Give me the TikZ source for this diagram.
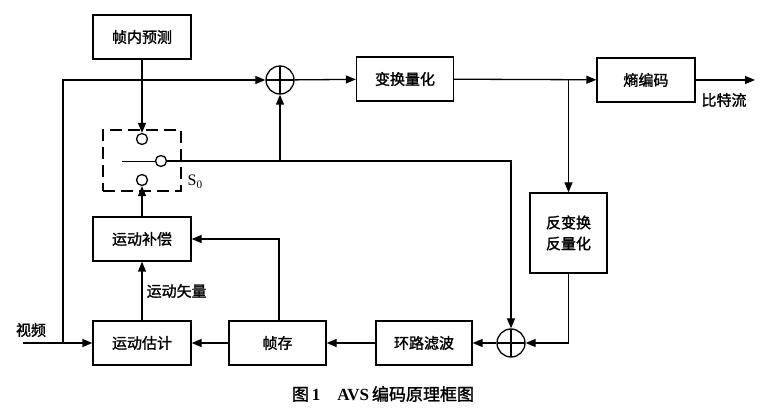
\documentclass[tikz,border=0pt]{standalone}
\usepackage{fontspec}
\setmainfont{Liberation Serif}
\newfontfamily\cjk[FakeBold=1.5]{Noto Sans CJK SC}
\usetikzlibrary{arrows.meta,positioning}

\begin{document}
\begin{tikzpicture}[x=1pt,y=-1pt,>={Triangle[length=10pt,width=8pt]},line width=1.3pt,
  block/.style={draw,minimum width=98pt,minimum height=44pt,inner sep=0pt,font=\cjk\fontsize{15}{21}\selectfont},
  sum/.style={draw,circle,minimum size=28pt,inner sep=0pt,
    path picture={\draw (path picture bounding box.north) -- (path picture bounding box.south)
                        (path picture bounding box.west) -- (path picture bounding box.east);}},
  pin/.style={draw,circle,minimum size=11pt,inner sep=0pt,fill=white},
  tag/.style={font=\cjk\fontsize{15}{18}\selectfont,inner sep=1pt}]
\useasboundingbox (0,0) rectangle (768,419);

% blocks
\node[block] (intra) at (142,37) {帧内预测};
\node[sum] (s1) at (280,80) {};
\node[block,minimum width=97pt] (tq) at (405,79) {变换量化};
\node[block] (ec) at (646,80) {熵编码};
\node[block,minimum width=77pt,minimum height=80pt,align=center] (iq) at (568.5,233) {反变换\\反量化};
\node[block] (mc) at (142,239) {运动补偿};
\node[block] (me) at (142,343) {运动估计};
\node[block,minimum width=97pt] (fs) at (277.5,343) {帧存};
\node[block,minimum width=96pt] (lf) at (424,343) {环路滤波};
\node[sum] (s2) at (511,343) {};

% switch S0
\node[draw,dash pattern=on 12pt off 6pt,minimum width=78pt,minimum height=61pt] (sw) at (142,160.5) {};
\node[pin] (pa) at (142,139) {};
\node[pin] (pb) at (161,161) {};
\node[pin] (pc) at (142,180) {};
\node[font=\fontsize{16}{18}\selectfont,right=2pt of sw.south east,yshift=10pt] (s0) {S\textsubscript{0}};
\coordinate (swin) at (122,161);

% free ends and joints
\coordinate (vin) at (23,343);
\coordinate (j3) at (63,343);
\coordinate (j4) at (63,80);
\coordinate (j1) at (s1 |- pb);
\coordinate (k1) at (s2 |- pb);
\coordinate (j2) at (iq |- tq);
\coordinate (out) at (755,80);

% connectors
\draw[->] (vin) -- (me);
\draw[->] (j3) -- (j4) -- (s1);
\draw[->] (s1) -- (tq);
\draw[->] (tq) -- (ec);
\draw[->] (ec) -- (out);
\draw[->] (j2) -- (iq);
\draw[->] (iq) |- (s2);
\draw[->] (s2) -- (lf);
\draw[->] (lf) -- (fs);
\draw[->] (fs) -- (me);
\draw[->] ([xshift=1.5pt]fs.north) |- (mc);
\draw[->] (me) -- node[tag,right=3pt] (mv) {运动矢量} (mc);
\draw[->] (mc) -- (pc);
\draw[->] (intra) -- (pa);
\draw[line width=0.9pt] (swin) -- (pb);
\draw[->] (pb) -- (k1) -- (s2);
\draw[->] (j1) -- (s1);

% labels
\node[tag] (vid) at (31,330) {视频};
\node[tag] (bits) at (724,100) {比特流};
\node[font=\fontsize{17}{20}\selectfont] (cap) at (383,394) {{\cjk 图}\,\textbf{1}\quad\textbf{AVS}\,{\cjk 编码原理框图}};
\end{tikzpicture}
\end{document}
